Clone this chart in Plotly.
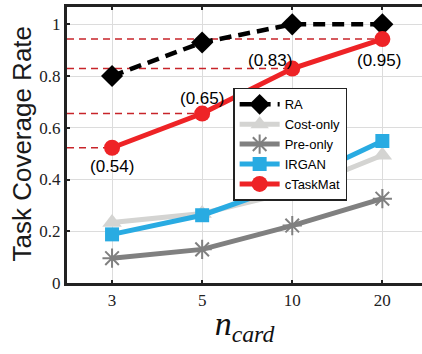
import plotly.graph_objects as go

categories = ["3", "5", "10", "20"]
ra = [0.80, 0.93, 1.00, 1.00]
cost_only = [0.234, 0.269, 0.353, 0.494]
pre_only = [0.096, 0.130, 0.222, 0.326]
irgan = [0.188, 0.262, 0.385, 0.549]
ctaskmat = [0.523, 0.655, 0.829, 0.943]
ctask_labels = ["(0.54)", "(0.65)", "(0.83)", "(0.95)"]

xi = list(range(len(categories)))

fig = go.Figure()

# red dashed reference lines from the y axis to each cTaskMat point
for i, v in enumerate(ctaskmat):
    fig.add_trace(go.Scatter(x=[-0.5, xi[i]], y=[v, v], mode="lines",
                             line=dict(color="#c8242a", width=1.6, dash="7px,5px"),
                             showlegend=False, hoverinfo="skip"))

fig.add_trace(go.Scatter(x=xi, y=ra, name="RA", mode="lines+markers",
                         line=dict(color="black", width=4.5, dash="12px,7px"),
                         marker=dict(symbol="diamond", size=17, color="black")))
fig.add_trace(go.Scatter(x=xi, y=cost_only, name="Cost-only", mode="lines+markers",
                         line=dict(color="#d4d4d2", width=5),
                         marker=dict(symbol="triangle-up", size=17, color="#d4d4d2")))
fig.add_trace(go.Scatter(x=xi, y=pre_only, name="Pre-only", mode="lines+markers",
                         line=dict(color="#808080", width=5),
                         marker=dict(symbol="asterisk-open", size=16,
                                     line=dict(color="#808080", width=2))))
fig.add_trace(go.Scatter(x=xi, y=irgan, name="IRGAN", mode="lines+markers",
                         line=dict(color="#29abe2", width=5),
                         marker=dict(symbol="square", size=14, color="#29abe2")))
fig.add_trace(go.Scatter(x=xi, y=ctaskmat, name="cTaskMat", mode="lines+markers",
                         line=dict(color="#ee2326", width=5),
                         marker=dict(symbol="circle", size=16, color="#ee2326")))

shifts = [(0, -19), (0, 15), (-22, 8), (-3, -21)]
for i, (lab, v) in enumerate(zip(ctask_labels, ctaskmat)):
    fig.add_annotation(x=xi[i], y=v, text=lab, showarrow=False,
                       xshift=shifts[i][0], yshift=shifts[i][1],
                       font=dict(family="Liberation Sans, Arial", size=17, color="black"))

fig.add_annotation(x=-0.127, y=0.505, xref="paper", yref="paper",
                   xanchor="center", yanchor="middle",
                   text="Task Coverage Rate", textangle=-90, showarrow=False,
                   font=dict(family="Liberation Sans, Arial", size=26, color="#1a1a1a"))

fig.update_layout(
    width=422, height=354,
    margin=dict(l=67, r=0, t=7, b=71),
    paper_bgcolor="white", plot_bgcolor="white",
    legend=dict(x=0.468, y=0.707, xanchor="left", yanchor="top",
                bgcolor="white", bordercolor="#222", borderwidth=1.5,
                font=dict(family="Liberation Sans, Arial", size=13, color="black"),
                tracegroupgap=0, itemwidth=40),
    xaxis=dict(range=[-0.5, 3.44], tickvals=xi, ticktext=categories,
               showgrid=True, gridcolor="#dcdcdc", gridwidth=1,
               showline=True, linecolor="#222", linewidth=3, mirror="ticks",
               ticks="inside", ticklen=3, tickwidth=2, tickcolor="#222",
               tickfont=dict(family="Liberation Serif, Times New Roman", size=17, color="#222"),
               zeroline=False,
               title=dict(text="<i>n</i><sub><i>card</i></sub>",
                          font=dict(family="Liberation Serif, Times New Roman", size=34, color="#111"),
                          standoff=2)),
    yaxis=dict(range=[0, 1.067], tickvals=[0, 0.2, 0.4, 0.6, 0.8, 1.0],
               ticktext=["0", "0.2", "0.4", "0.6", "0.8", "1"],
               showgrid=True, gridcolor="#dcdcdc", gridwidth=1,
               showline=True, linecolor="#222", linewidth=3, mirror=False,
               ticks="inside", ticklen=3, tickwidth=2, tickcolor="#222",
               tickfont=dict(family="Liberation Serif, Times New Roman", size=17, color="#222"),
               zeroline=False),
)

fig.write_html("out.html")
